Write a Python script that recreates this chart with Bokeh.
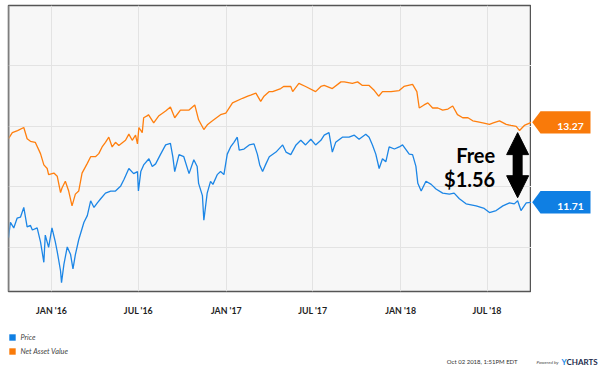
import pandas as pd
from bokeh.plotting import figure
from bokeh.layouts import column, row
from bokeh.models import (Range1d, FixedTicker, Grid, Span, Label, Legend, LegendItem,
                          Arrow, NormalHead)
from bokeh.embed import file_html
from bokeh.resources import INLINE

# ---------------- data ----------------
PRICE_DATES = [
    "2015-10-03", "2015-10-07", "2015-10-14", "2015-10-21", "2015-10-28", "2015-11-04", "2015-11-11",
    "2015-11-18", "2015-11-22", "2015-12-02", "2015-12-09", "2015-12-16", "2015-12-19", "2015-12-26",
    "2016-01-02", "2016-01-09", "2016-01-13", "2016-01-20", "2016-01-22", "2016-01-27", "2016-02-03",
    "2016-02-10", "2016-02-15", "2016-02-20", "2016-02-27", "2016-03-09", "2016-03-16", "2016-03-23",
    "2016-03-30", "2016-04-06", "2016-04-13", "2016-04-23", "2016-05-04", "2016-05-14", "2016-05-25",
    "2016-06-01", "2016-06-11", "2016-06-21", "2016-06-29", "2016-07-01", "2016-07-06", "2016-07-12",
    "2016-07-23", "2016-07-30", "2016-08-06", "2016-08-16", "2016-08-27", "2016-09-06", "2016-09-11",
    "2016-09-15", "2016-09-24", "2016-10-04", "2016-10-15", "2016-10-25", "2016-11-01", "2016-11-04",
    "2016-11-12", "2016-11-15", "2016-11-22", "2016-11-29", "2016-12-04", "2016-12-13", "2016-12-20",
    "2016-12-27", "2017-01-03", "2017-01-10", "2017-01-17", "2017-01-24", "2017-01-28", "2017-02-07",
    "2017-02-18", "2017-02-28", "2017-03-07", "2017-03-12", "2017-03-18", "2017-03-25", "2017-04-01",
    "2017-04-15", "2017-04-29", "2017-05-06", "2017-05-16", "2017-05-27", "2017-06-06", "2017-06-16",
    "2017-06-27", "2017-07-07", "2017-07-18", "2017-07-25", "2017-08-04", "2017-08-11", "2017-08-18",
    "2017-09-01", "2017-09-15", "2017-09-26", "2017-10-06", "2017-10-20", "2017-10-27", "2017-11-03",
    "2017-11-10", "2017-11-17", "2017-11-24", "2017-12-01", "2017-12-08", "2017-12-19", "2017-12-29",
    "2018-01-05", "2018-01-19", "2018-01-26", "2018-02-02", "2018-02-06", "2018-02-13", "2018-02-23",
    "2018-03-06", "2018-03-16", "2018-03-30", "2018-04-13", "2018-04-23", "2018-05-04", "2018-05-18",
    "2018-06-08", "2018-06-25", "2018-07-06", "2018-07-20", "2018-08-03", "2018-08-17", "2018-08-27",
    "2018-09-03", "2018-09-10", "2018-09-21", "2018-10-02",
]
PRICE_VALUES = [
    11.02, 11.32, 11.21, 11.40, 11.42, 11.61, 11.23,
    11.26, 11.17, 11.21, 10.94, 10.54, 11.07, 10.83,
    11.21, 10.94, 10.75, 10.37, 10.14, 10.50, 10.84,
    10.69, 10.41, 10.69, 10.98, 11.32, 11.45, 11.74,
    11.61, 11.70, 11.78, 11.89, 11.93, 11.93, 12.03,
    12.16, 12.37, 12.27, 12.31, 11.93, 12.31, 12.44,
    12.56, 12.41, 12.46, 12.64, 12.83, 12.86, 12.60,
    12.31, 12.64, 12.60, 12.27, 12.54, 12.41, 12.08,
    11.84, 11.36, 11.89, 12.12, 12.06, 12.25, 12.31,
    12.25, 12.65, 12.79, 12.88, 12.98, 12.73, 12.75,
    12.83, 12.85, 12.65, 12.44, 12.31, 12.46, 12.60,
    12.69, 12.83, 12.69, 12.64, 12.83, 12.92, 12.83,
    12.94, 12.83, 12.92, 13.02, 13.07, 12.69, 12.88,
    12.98, 12.98, 13.02, 12.94, 13.04, 12.98, 12.83,
    12.65, 12.37, 12.56, 12.50, 12.79, 12.75, 12.79,
    12.83, 12.65, 12.64, 12.41, 12.08, 11.93, 12.12,
    12.06, 11.97, 11.89, 11.87, 11.89, 11.78, 11.68,
    11.64, 11.59, 11.51, 11.55, 11.64, 11.70, 11.68,
    11.74, 11.55, 11.70, 11.71,
]

NAV_DATES = [
    "2015-10-03", "2015-10-11", "2015-10-22", "2015-11-04", "2015-11-11", "2015-11-18", "2015-11-28",
    "2015-12-09", "2015-12-16", "2015-12-23", "2015-12-26", "2016-01-06", "2016-01-13", "2016-01-20",
    "2016-01-23", "2016-01-30", "2016-02-06", "2016-02-13", "2016-02-20", "2016-02-27", "2016-03-05",
    "2016-03-16", "2016-03-23", "2016-04-02", "2016-04-09", "2016-04-16", "2016-04-23", "2016-04-30",
    "2016-05-07", "2016-05-14", "2016-05-21", "2016-06-04", "2016-06-11", "2016-06-18", "2016-06-25",
    "2016-06-29", "2016-07-02", "2016-07-09", "2016-07-12", "2016-07-20", "2016-07-22", "2016-08-02",
    "2016-08-13", "2016-08-27", "2016-09-06", "2016-09-15", "2016-09-27", "2016-10-15", "2016-10-27",
    "2016-11-04", "2016-11-15", "2016-11-23", "2016-12-03", "2016-12-20", "2016-12-31", "2017-01-14",
    "2017-02-04", "2017-02-15", "2017-02-21", "2017-03-04", "2017-03-14", "2017-03-21", "2017-04-01",
    "2017-04-08", "2017-04-25", "2017-05-01", "2017-05-16", "2017-05-20", "2017-06-02", "2017-06-16",
    "2017-07-07", "2017-07-18", "2017-07-25", "2017-08-11", "2017-08-29", "2017-09-05", "2017-09-22",
    "2017-10-03", "2017-10-13", "2017-10-27", "2017-11-07", "2017-11-16", "2017-11-24", "2017-12-12",
    "2017-12-29", "2018-01-08", "2018-01-26", "2018-02-04", "2018-02-09", "2018-02-19", "2018-02-27",
    "2018-03-09", "2018-03-20", "2018-03-30", "2018-04-10", "2018-04-20", "2018-04-30", "2018-05-11",
    "2018-05-22", "2018-06-01", "2018-06-12", "2018-06-22", "2018-07-06", "2018-07-14", "2018-07-27",
    "2018-08-10", "2018-08-20", "2018-08-31", "2018-09-07", "2018-09-17", "2018-10-02",
]
NAV_VALUES = [
    12.95, 13.07, 13.11, 13.17, 12.95, 12.90, 12.88,
    12.66, 12.44, 12.37, 12.25, 12.28, 12.22, 11.90,
    11.99, 12.12, 11.93, 11.64, 11.87, 11.93, 12.28,
    12.47, 12.60, 12.60, 12.66, 12.79, 12.88, 12.98,
    12.79, 12.88, 12.82, 12.92, 13.04, 12.92, 13.02,
    12.85, 13.17, 13.07, 13.36, 13.40, 13.42, 13.26,
    13.40, 13.49, 13.57, 13.36, 13.51, 13.51, 13.61,
    13.32, 13.13, 13.23, 13.30, 13.42, 13.45, 13.65,
    13.74, 13.78, 13.80, 13.84, 13.68, 13.78, 13.87,
    13.87, 13.93, 13.97, 13.97, 13.87, 14.03, 13.97,
    13.87, 13.97, 13.99, 13.93, 14.06, 14.06, 14.03,
    14.06, 13.99, 13.99, 13.89, 13.78, 13.87, 13.87,
    13.89, 13.97, 14.01, 13.87, 13.55, 13.61, 13.65,
    13.55, 13.55, 13.51, 13.53, 13.59, 13.42, 13.36,
    13.36, 13.30, 13.28, 13.26, 13.23, 13.26, 13.30,
    13.23, 13.21, 13.19, 13.11, 13.21, 13.27,
]

TICK_DATES = ["2016-01-01", "2016-07-01", "2017-01-01", "2017-07-01", "2018-01-01", "2018-07-01"]
TICK_LABELS = ["JAN '16", "JUL '16", "JAN '17", "JUL '17", "JAN '18", "JUL '18"]
Y_GRID = [10.83, 12.01, 13.19, 14.37]

SERIES_NAMES = ["Price", "Net Asset Value"]
STAMP_TEXT = "Oct 02 2018, 1:51PM EDT"
ANNOT_WORD = "Free"
ARROW_DATE = "2018-09-03"
FREE_TEXT_DATE = "2018-07-18"

# ---------------- styling ----------------
BLUE = "#1c86e6"
ORANGE = "#ff7f0e"
BLUE_TAG = "#0f7fe3"
ORANGE_TAG = "#f97a0a"
FONT = "Lato"


def to_ms(d):
    return pd.Timestamp(d).value / 1e6


price_dt = pd.to_datetime(PRICE_DATES)
nav_dt = pd.to_datetime(NAV_DATES)
x_start = min(price_dt.min(), nav_dt.min())
x_end = max(price_dt.max(), nav_dt.max())
y_rng = Range1d(9.97, 15.55)

# ---------------- main chart ----------------
p = figure(width=531, height=318, x_axis_type="datetime", y_axis_location=None,
           x_range=Range1d(x_start, x_end), y_range=y_rng,
           output_backend="svg", toolbar_location=None,
           min_border_left=8, min_border_right=0, min_border_top=5, min_border_bottom=20,
           background_fill_color="#f7f7f7", border_fill_color="white",
           outline_line_color="#555555", outline_line_width=1.5)

tick_ms = [to_ms(d) for d in TICK_DATES]
xt = FixedTicker(ticks=tick_ms)
p.xaxis.ticker = xt
p.xaxis.major_label_overrides = {t: lab for t, lab in zip(tick_ms, TICK_LABELS)}
p.xaxis.axis_line_color = None
p.xaxis.major_tick_line_color = None
p.xaxis.minor_tick_line_color = None
p.xaxis.major_label_text_font = FONT
p.xaxis.major_label_text_font_style = "bold"
p.xaxis.major_label_text_font_size = "8.8px"
p.xaxis.major_label_text_color = "#1e1e1e"
p.xaxis.major_label_standoff = 7

p.xgrid.ticker = xt
p.xgrid.grid_line_color = "#e3e3e3"
for g in p.ygrid:
    g.visible = False
p.add_layout(Grid(dimension=1, ticker=FixedTicker(ticks=Y_GRID), grid_line_color="#e3e3e3"))

p.add_layout(Span(location=to_ms(x_start), dimension="height", line_color="#a8a8a8", line_width=2))

p.line(nav_dt, NAV_VALUES, line_color=ORANGE, line_width=1.3)
p.line(price_dt, PRICE_VALUES, line_color=BLUE, line_width=1.3)

nav_last = NAV_VALUES[-1]
price_last = PRICE_VALUES[-1]
gap = nav_last - price_last
ax = to_ms(ARROW_DATE)
top = nav_last - 0.2
bot = price_last + 0.09
mid = (top + bot) / 2
p.add_layout(Arrow(x_start=ax, y_start=mid, x_end=ax, y_end=top, line_alpha=0,
                   end=NormalHead(size=22, fill_color="black", line_color="black")))
p.add_layout(Arrow(x_start=ax, y_start=mid, x_end=ax, y_end=bot, line_alpha=0,
                   end=NormalHead(size=22, fill_color="black", line_color="black")))
p.add_layout(Arrow(x_start=ax, y_start=top - 0.3, x_end=ax, y_end=bot + 0.3,
                   start=None, end=None, line_width=10, line_color="black"))

fx = to_ms(FREE_TEXT_DATE)
p.add_layout(Label(x=fx, y=12.63, text=ANNOT_WORD, text_align="right", text_baseline="alphabetic",
                   text_font=FONT, text_font_style="bold", text_font_size="20px", text_color="black"))
p.add_layout(Label(x=fx, y=12.17, text=f"${gap:.2f}", text_align="right", text_baseline="alphabetic",
                   text_font=FONT, text_font_style="bold", text_font_size="20px", text_color="black"))

# ---------------- last-value tags (right strip, shares the y scale) ----------------
tags = figure(width=69, height=318, x_range=Range1d(0, 69), y_range=y_rng,
              x_axis_location=None, y_axis_location=None, output_backend="svg",
              toolbar_location=None, min_border_left=0, min_border_right=0,
              min_border_top=5, min_border_bottom=20, outline_line_color=None,
              background_fill_color="white", border_fill_color="white")
tags.grid.visible = False
H = 0.219  # half tag height in value units (about 11.5 px)
for v, col in [(nav_last, ORANGE_TAG), (price_last, BLUE_TAG)]:
    tags.patch([0.7, 9, 59, 59, 9], [v, v + H, v + H, v - H, v - H], fill_color=col, line_color=None)
    tags.add_layout(Label(x=39, y=v, y_offset=-3.7, text=f"{v:.2f}", text_align="center",
                          text_baseline="alphabetic", text_color="white", text_font=FONT,
                          text_font_style="bold", text_font_size="10.3px"))

# ---------------- footer: legend + stamp ----------------
foot = figure(width=600, height=53, x_range=Range1d(0, 1), y_range=Range1d(0, 1),
              x_axis_location=None, y_axis_location=None, output_backend="svg",
              toolbar_location=None, min_border=0, outline_line_color=None,
              background_fill_color="white", border_fill_color="white")
foot.grid.visible = False
# legend swatch renderers: one off-range square each, only used to draw the legend swatches
q_price = foot.quad(left=[5], right=[6], top=[6], bottom=[5], fill_color=BLUE_TAG, line_color=None)
q_nav = foot.quad(left=[5], right=[6], top=[6], bottom=[5], fill_color=ORANGE_TAG, line_color=None)
legend = Legend(items=[LegendItem(label=SERIES_NAMES[0], renderers=[q_price]),
                       LegendItem(label=SERIES_NAMES[1], renderers=[q_nav])],
                location=(7.5, 15), orientation="vertical",
                glyph_width=8, glyph_height=8, label_height=10, label_standoff=5,
                spacing=4, padding=0, margin=0, border_line_color=None,
                background_fill_alpha=0, label_text_font=FONT,
                label_text_font_style="italic", label_text_font_size="7.3px",
                label_text_color="#444444")
foot.add_layout(legend)

SY = 10
foot.add_layout(Label(x=517, y=SY, x_units="screen", y_units="screen", text=STAMP_TEXT,
                      text_align="right", text_baseline="middle", text_font=FONT,
                      text_font_size="6px", text_color="#333333"))
foot.add_layout(Label(x=558, y=SY, x_units="screen", y_units="screen", text="Powered by",
                      text_align="right", text_baseline="middle", text_font=FONT,
                      text_font_style="italic", text_font_size="4.6px", text_color="#444444"))
foot.add_layout(Label(x=561, y=SY, x_units="screen", y_units="screen", text="Y",
                      text_align="left", text_baseline="middle", text_font=FONT,
                      text_font_style="bold", text_font_size="8px", text_color="#1a8be8"))
foot.add_layout(Label(x=566, y=SY, x_units="screen", y_units="screen", text="CHARTS",
                      text_align="left", text_baseline="middle", text_font=FONT,
                      text_font_style="bold", text_font_size="8px", text_color="#1b2b4b"))

layout = column(row(p, tags, spacing=0), foot, spacing=0)

open("out.html", "w").write(file_html(layout, INLINE))
